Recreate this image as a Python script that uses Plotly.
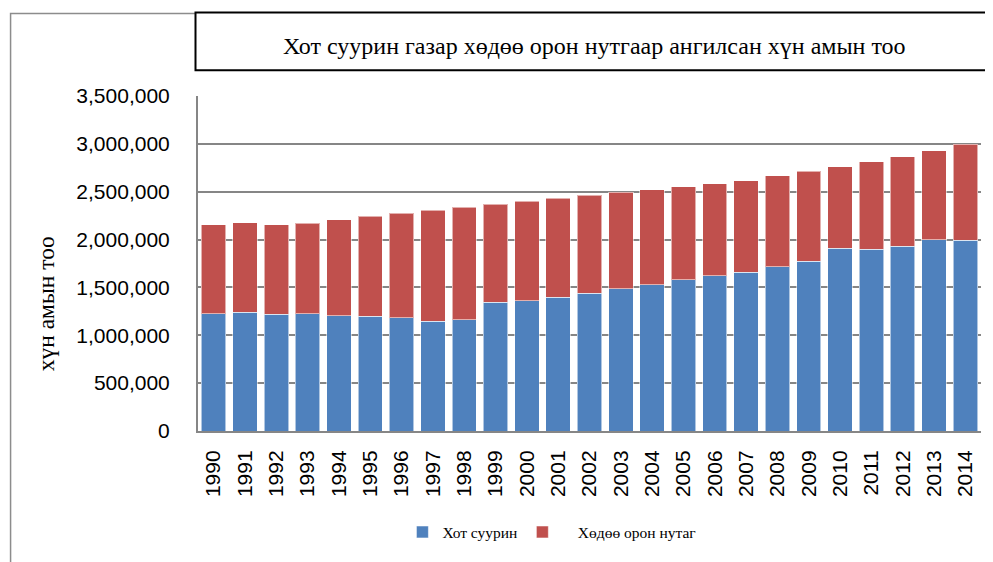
import plotly.graph_objects as go

years = [str(y) for y in range(1990, 2015)]
urban = [1225000, 1243000, 1222000, 1225000, 1205000, 1201000, 1181000, 1146000, 1160000,
         1347000, 1361000, 1395000, 1437000, 1485000, 1530000, 1579000, 1620000, 1658000,
         1714000, 1773000, 1911000, 1897000, 1928000, 1997000, 1994000]
rural = [928000, 935000, 935000, 946000, 1004000, 1042000, 1093000, 1160000, 1177000,
         1021000, 1038000, 1035000, 1024000, 1011000, 991000, 973000, 963000, 959000,
         952000, 941000, 849000, 914000, 939000, 932000, 1002000]
y_ticks = [0, 500000, 1000000, 1500000, 2000000, 2500000, 3000000, 3500000]

title_text = "Хот суурин газар хөдөө орон нутгаар ангилсан хүн амын тоо"
y_title = "хүн амын тоо"
name_urban = "Хот суурин"
name_rural = "\u00a0\u00a0\u00a0\u00a0Хөдөө орон нутаг"

OFF = 8  # page body margin
W, H = 993 - OFF, 562 - OFF
L, R, T, B = 197.5 - OFF, 980.8 - OFF, 96 - OFF, 433 - OFF

def px(x):
    return (x - OFF - L) / (R - L)

def py(y):
    return (B - (y - OFF)) / (B - T)

fig = go.Figure()
fig.add_bar(x=years, y=urban, name=name_urban, marker_color="#4F81BD",
            marker_line=dict(color="rgba(255,255,255,0.55)", width=1))
fig.add_bar(x=years, y=rural, name=name_rural, marker_color="#C0504D",
            marker_line=dict(color="rgba(255,255,255,0.55)", width=1))

fig.update_layout(
    width=W, height=H,
    barmode="stack", bargap=0.22,
    margin=dict(l=L, r=W - R, t=T, b=H - B, pad=0),
    plot_bgcolor="white", paper_bgcolor="white",
    font=dict(family="Liberation Sans", color="black"),
    showlegend=True,
    legend=dict(orientation="h", x=px(402), y=py(535), xanchor="left", yanchor="middle",
                font=dict(family="Liberation Serif", size=15.5, color="black"),
                bgcolor="rgba(0,0,0,0)", traceorder="normal"),
    xaxis=dict(type="category", tickangle=-90, tickfont=dict(size=21, family="Liberation Sans"),
               showline=True, linecolor="#868686", linewidth=2, ticks="",
               ticklabelstandoff=9, showgrid=False),
    yaxis=dict(range=[0, 3500000], tickvals=y_ticks, tickformat=",",
               tickfont=dict(size=21, family="Liberation Sans"),
               showline=True, linecolor="#868686", linewidth=2,
               gridcolor="#868686", gridwidth=2, ticks="", ticklabelstandoff=22,
               zeroline=False),
)

# outer chart border (partially)
fig.add_shape(type="path", xref="paper", yref="paper",
              path=f"M {px(10)},{py(580)} L {px(10)},{py(13)} L {px(195)},{py(13)}",
              line=dict(color="#8c8c8c", width=1.5))
# title box
fig.add_shape(type="rect", xref="paper", yref="paper",
              x0=px(195), x1=px(1005), y0=py(70), y1=py(12),
              line=dict(color="black", width=2), fillcolor="white")
fig.add_annotation(text=title_text, xref="paper", yref="paper", x=px(594), y=py(46),
                   showarrow=False, xanchor="center", yanchor="middle",
                   font=dict(family="Liberation Serif", size=24, color="black"))
fig.add_annotation(text=y_title, xref="paper", yref="paper", x=px(45), y=py(305),
                   showarrow=False, textangle=-90, xanchor="center", yanchor="middle",
                   font=dict(family="Liberation Serif", size=23.5, color="black"))

fig.write_html("out.html")
